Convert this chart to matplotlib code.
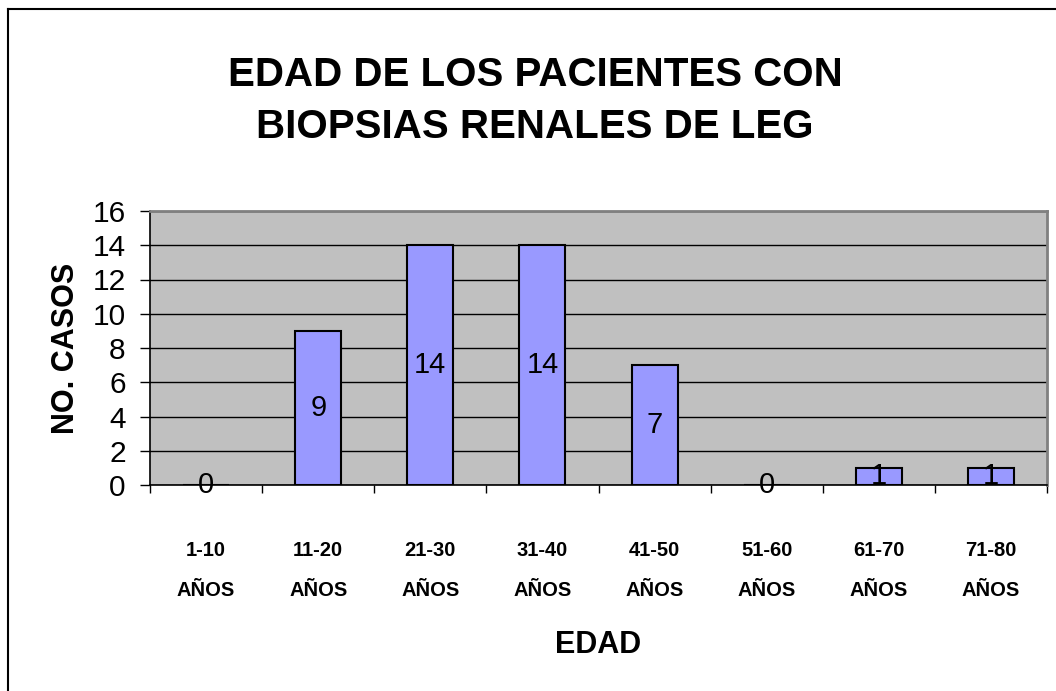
import matplotlib
matplotlib.use("Agg")
import matplotlib.pyplot as plt
from matplotlib.lines import Line2D

# ---------------- DATA ----------------
age_groups = ["1-10", "11-20", "21-30", "31-40", "41-50", "51-60", "61-70", "71-80"]
cases = [0, 9, 14, 14, 7, 0, 1, 1]
y_ticks = [0, 2, 4, 6, 8, 10, 12, 14, 16]
# --------------------------------------

plt.rcParams['font.family'] = ['Liberation Sans', 'DejaVu Sans']

W, H = 1056, 691
fig = plt.figure(figsize=(W / 100, H / 100), dpi=100)
fig.patch.set_facecolor("white")

# outer chart border (left and top visible, rest runs off the image)
fx0, fy1 = 8 / W, 1 - 9 / H
fig.add_artist(Line2D([fx0, fx0], [0, fy1], transform=fig.transFigure, color="black", lw=1.5))
fig.add_artist(Line2D([fx0, 1], [fy1, fy1], transform=fig.transFigure, color="black", lw=1.5))

left, right, top, bottom = 150, 1047, 211, 485
ax = fig.add_axes([left / W, 1 - bottom / H, (right - left) / W, (bottom - top) / H])
ax.set_facecolor("#C0C0C0")

x = list(range(len(age_groups)))
ax.bar(x, cases, width=0.41, color="#9999FF", edgecolor="black", linewidth=1.5, zorder=3)

for xi, v in zip(x, cases):
    ax.text(xi, v / 2, str(v), ha="center", va="center", fontsize=21, zorder=4)

ax.set_xlim(-0.5, len(age_groups) - 0.5)
ax.set_ylim(0, 16)
ax.set_yticks(y_ticks)
ax.yaxis.grid(True, color="black", linewidth=1)
ax.set_axisbelow(True)
ax.tick_params(axis="y", labelsize=21.5, length=7, width=1, pad=10.5, direction="out")

# category boundary ticks on x, labels at centers
ax.set_xticks([i - 0.5 for i in range(len(age_groups) + 1)])
ax.set_xticklabels([])
ax.tick_params(axis="x", length=6, width=1, direction="out")
ax.set_xticks(x, minor=True)
ax.set_xticklabels([g + "\nAÑOS" for g in age_groups], minor=True,
                   fontsize=14.5, fontweight="bold", linespacing=2.4)
ax.tick_params(axis="x", which="minor", length=0, pad=40)

for s in ["left", "bottom"]:
    ax.spines[s].set_color("black")
    ax.spines[s].set_linewidth(1.2)
for s in ["top", "right"]:
    ax.spines[s].set_color("#808080")
    ax.spines[s].set_linewidth(2)

ax.set_ylabel("NO. CASOS", fontsize=22, fontweight="bold", labelpad=8)
ax.set_xlabel("EDAD", fontsize=22, fontweight="bold", labelpad=22)

fig.text(535 / W, 1 - 101 / H, "EDAD DE LOS PACIENTES CON\nBIOPSIAS RENALES DE LEG",
         ha="center", va="center", fontsize=29, fontweight="bold", linespacing=1.45)

fig.savefig("out.png", dpi=100)
